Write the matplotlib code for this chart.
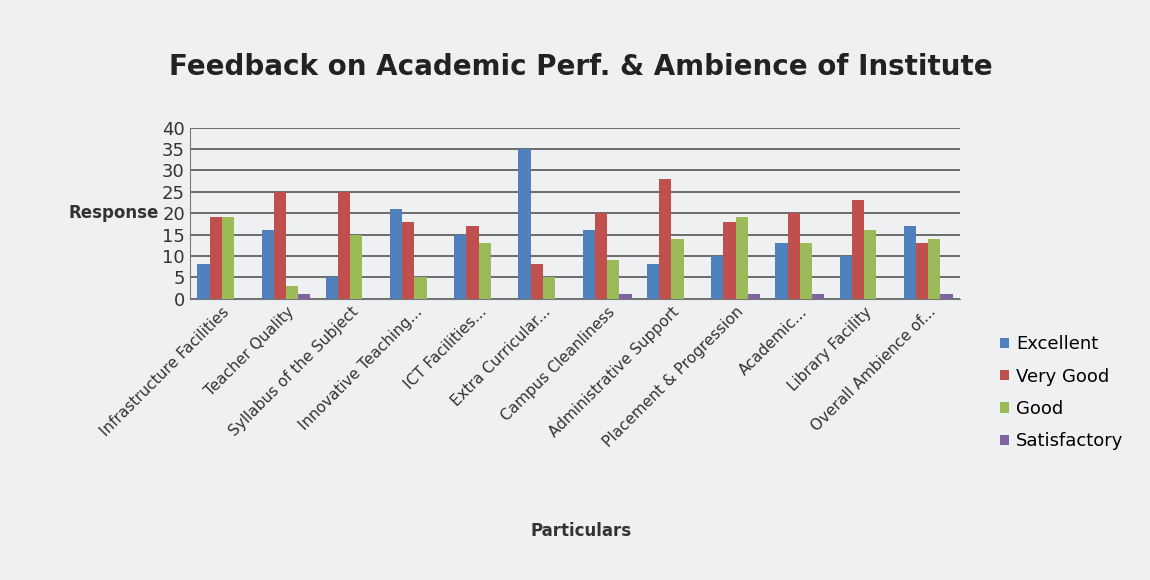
import numpy as np
import matplotlib.pyplot as plt

categories = ["Infrastructure Facilities", "Teacher Quality", "Syllabus of the Subject",
              "Innovative Teaching...", "ICT Facilities...", "Extra Curricular...",
              "Campus Cleanliness", "Administrative Support", "Placement & Progression",
              "Academic...", "Library Facility", "Overall Ambience of..."]
excellent = [8, 16, 5, 21, 15, 35, 16, 8, 10, 13, 10, 17]
very_good = [19, 25, 25, 18, 17, 8, 20, 28, 18, 20, 23, 13]
good = [19, 3, 15, 5, 13, 5, 9, 14, 19, 13, 16, 14]
satisfactory = [0, 1, 0, 0, 0, 0, 1, 0, 1, 1, 0, 1]

series = [("Excellent", excellent, "#4F81BD"),
          ("Very Good", very_good, "#C0504D"),
          ("Good", good, "#9BBB59"),
          ("Satisfactory", satisfactory, "#8064A2")]

fig = plt.figure(figsize=(11.5, 5.8), dpi=100, facecolor="#eef0f2")
ax = fig.add_axes([0.165, 0.485, 0.67, 0.295], facecolor="#eef0f2")

x = np.arange(len(categories))
w = 0.19
for i, (name, vals, col) in enumerate(series):
    ax.bar(x + (i - 1.5) * w, vals, w, label=name, color=col, zorder=3)

ax.set_ylim(0, 40)
ax.set_yticks(range(0, 41, 5))
ax.set_xlim(-0.5, len(categories) - 0.5)
ax.grid(axis="y", color="#555555", linewidth=1.2, zorder=0)
for s in ["top", "right"]:
    ax.spines[s].set_visible(False)
ax.spines["left"].set_color("#777777")
ax.spines["bottom"].set_color("#777777")
ax.tick_params(axis="y", length=0, labelsize=13, colors="#333333")
ax.set_xticks(x)
ax.set_xticklabels(categories, rotation=45, ha="right", rotation_mode="anchor",
                   fontsize=11, color="#333333")
ax.tick_params(axis="x", length=0, pad=4)

ax.set_ylabel("Response", rotation=0, fontsize=12, fontweight="bold",
              color="#333333", labelpad=35, va="center")
fig.text(0.505, 0.075, "Particulars", ha="center", fontsize=12,
         fontweight="bold", color="#333333")
fig.text(0.505, 0.87, "Feedback on Academic Perf. & Ambience of Institute",
         ha="center", fontsize=20, fontweight="bold", color="#222222")

ax.legend(loc="center left", bbox_to_anchor=(1.03, -0.55), frameon=False,
          fontsize=13, handlelength=0.5, handleheight=0.5, labelspacing=0.8,
          handletextpad=0.4)

fig.savefig("out.png", dpi=100, facecolor=fig.get_facecolor())
